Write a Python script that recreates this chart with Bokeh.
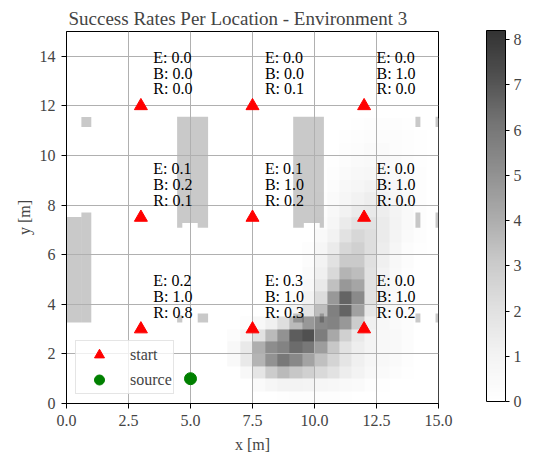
import numpy as np
from bokeh.plotting import figure
from bokeh.models import (LinearColorMapper, ColorBar, FixedTicker, Label, Range1d)
from bokeh.core.properties import value
from bokeh.embed import file_html
from bokeh.resources import INLINE

FONT = "Liberation Serif"

# ---------------- data ----------------
start_x = [3.0, 7.5, 12.0, 3.0, 7.5, 12.0, 3.0, 7.5, 12.0]
start_y = [12.0, 12.0, 12.0, 7.5, 7.5, 7.5, 3.0, 3.0, 3.0]
rate_E = ["0.0", "0.0", "0.0", "0.1", "0.1", "0.0", "0.2", "0.3", "0.0"]
rate_B = ["0.0", "0.0", "1.0", "0.2", "1.0", "1.0", "1.0", "1.0", "1.0"]
rate_R = ["0.0", "0.1", "0.0", "0.1", "0.2", "0.0", "0.8", "0.3", "0.2"]
source_x = [5.0]
source_y = [1.0]

x_ticks = [0, 2.5, 5, 7.5, 10, 12.5, 15]
x_tick_labels = ["0.0", "2.5", "5.0", "7.5", "10.0", "12.5", "15.0"]
y_ticks = [0, 2, 4, 6, 8, 10, 12, 14]
cb_ticks = [0, 1, 2, 3, 4, 5, 6, 7, 8]
ppm_max = 8.2

# obstacle rectangles (m)
obs_x0 = [0.60, 4.46, 4.46, 5.29, 9.14, 9.14, 10.21, 0.00, 0.60, 4.46, 5.29, 9.14, 10.21, 14.07, 14.88, 14.07, 14.88, 14.07, 14.88]
obs_x1 = [1.00, 5.71, 4.67, 5.71, 10.38, 9.57, 10.38, 0.60, 1.00, 4.67, 5.71, 9.57, 10.38, 14.27, 15.00, 14.27, 15.00, 14.27, 15.00]
obs_y0 = [11.15, 7.28, 7.09, 7.09, 7.28, 7.09, 7.09, 3.27, 3.27, 3.27, 3.27, 3.27, 3.27, 11.15, 11.15, 7.09, 7.09, 3.27, 3.27]
obs_y1 = [11.55, 11.56, 7.28, 7.28, 11.56, 7.28, 7.28, 7.52, 7.70, 3.56, 3.63, 3.63, 3.63, 11.56, 11.56, 7.70, 7.70, 3.63, 3.63]

# plume concentration (ppm), 0.5 m cells, columns x = 6.0..15.0, rows listed from y = 11.5 (top) down to y = 0
plume_rows_top_down = [
    [0, 0, 0, 0, 0, 0, 0, 0, 0, 0, 0, 0.1, 0.2, 0.2, 0.2, 0.1, 0, 0],
    [0, 0, 0, 0, 0, 0, 0, 0, 0, 0, 0.1, 0.2, 0.3, 0.3, 0.3, 0.2, 0.1, 0],
    [0, 0, 0, 0, 0, 0, 0, 0, 0, 0, 0.2, 0.3, 0.4, 0.4, 0.3, 0.2, 0.1, 0],
    [0, 0, 0, 0, 0, 0, 0, 0, 0, 0.1, 0.3, 0.4, 0.5, 0.5, 0.4, 0.3, 0.1, 0],
    [0, 0, 0, 0, 0, 0, 0, 0, 0, 0.2, 0.4, 0.6, 0.7, 0.7, 0.5, 0.3, 0.2, 0],
    [0, 0, 0, 0, 0, 0, 0, 0, 0, 0.3, 0.6, 0.8, 1.0, 0.9, 0.7, 0.4, 0.2, 0],
    [0, 0, 0, 0, 0, 0, 0, 0, 0.1, 0.4, 0.8, 1.1, 1.3, 1.1, 0.8, 0.5, 0.2, 0],
    [0, 0, 0, 0, 0, 0, 0, 0, 0.2, 0.6, 1.1, 1.5, 1.6, 1.3, 0.9, 0.5, 0.2, 0],
    [0, 0, 0, 0, 0, 0, 0, 0, 0.3, 0.8, 1.5, 2.0, 2.0, 1.5, 1.0, 0.5, 0.2, 0],
    [0, 0, 0, 0, 0, 0, 0, 0, 0.5, 1.1, 2.0, 2.5, 2.2, 1.5, 0.9, 0.4, 0.2, 0],
    [0, 0, 0, 0, 0, 0, 0, 0.2, 0.8, 1.5, 2.5, 2.8, 2.2, 1.4, 0.8, 0.3, 0.1, 0],
    [0, 0, 0, 0, 0, 0, 0, 0.3, 1.0, 2.0, 3.1, 3.1, 2.1, 1.2, 0.6, 0.3, 0, 0],
    [0, 0, 0, 0, 0, 0, 0, 0.4, 1.2, 2.4, 3.8, 3.5, 2.0, 1.0, 0.5, 0.2, 0, 0],
    [0, 0, 0, 0, 0, 0, 0, 0.6, 1.6, 3.4, 4.8, 4.3, 2.0, 0.9, 0.5, 0.2, 0, 0],
    [0, 0, 0, 0, 0, 0, 0.3, 1.0, 2.3, 4.8, 6.6, 5.3, 2.0, 0.9, 0.4, 0.2, 0, 0],
    [0, 0, 0, 0, 0, 0.3, 0.8, 1.8, 3.5, 5.7, 6.6, 4.5, 1.7, 0.8, 0.4, 0.2, 0, 0],
    [0, 0, 0.2, 0.6, 1.2, 2.2, 3.6, 4.8, 5.4, 5.6, 4.8, 3.0, 1.2, 0.7, 0.4, 0.3, 0, 0],
    [0, 0.3, 0.8, 2.0, 3.6, 5.0, 6.8, 7.2, 5.8, 4.2, 2.8, 1.6, 0.9, 0.6, 0.5, 0.3, 0, 0],
    [0, 0.6, 1.6, 4.0, 5.2, 5.6, 6.4, 6.0, 4.6, 3.2, 2.0, 1.3, 0.9, 0.6, 0.5, 0.3, 0, 0],
    [0, 0.5, 1.6, 3.8, 5.0, 6.0, 5.4, 4.4, 3.4, 2.6, 1.8, 1.2, 0.8, 0.6, 0.4, 0.2, 0, 0],
    [0, 0, 0.6, 1.8, 3.0, 3.6, 3.2, 2.8, 2.4, 2.0, 1.4, 1.0, 0.6, 0.4, 0.3, 0.1, 0, 0],
    [0, 0, 0, 0.4, 0.8, 1.0, 1.0, 0.9, 0.8, 0.7, 0.5, 0.4, 0.2, 0.1, 0, 0, 0, 0],
    [0, 0, 0, 0, 0, 0.1, 0.2, 0.2, 0.2, 0.2, 0.1, 0, 0, 0, 0, 0, 0, 0],
]
plume_x0 = 6.0
plume_y0 = 0.0
plume_cell = 0.5

# ---------------- palette: matplotlib "Greys" at alpha 0.8 over white ----------------
greys_stops = [255, 240, 217, 189, 150, 115, 82, 37, 0]
palette = []
for i in range(256):
    t = i / 255 * (len(greys_stops) - 1)
    k = min(int(t), len(greys_stops) - 2)
    f = t - k
    g = greys_stops[k] * (1 - f) + greys_stops[k + 1] * f
    g = int(round(255 - 0.8 * (255 - g)))
    palette.append("#%02x%02x%02x" % (g, g, g))
mapper = LinearColorMapper(palette=palette, low=0, high=ppm_max)

plume = np.array(plume_rows_top_down, dtype=float)[::-1]
ny, nx = plume.shape

# ---------------- figure ----------------
W, H = 548, 456
p = figure(width=W, height=H, output_backend="svg", toolbar_location=None,
           x_range=Range1d(0, 15), y_range=Range1d(0, 15),
           min_border_left=66, min_border_right=W - 438, min_border_top=31, min_border_bottom=H - 403,
           title="Success Rates Per Location - Environment 3")
p.title.text_font = FONT
p.title.text_font_size = "19px"
p.title.text_font_style = "normal"
p.title.align = "left"
p.title.offset = 2
p.title.standoff = 6
p.background_fill_color = "white"
p.border_fill_color = "white"
p.outline_line_color = "black"
p.outline_line_width = 1
p.outline_line_alpha = 1

img = p.image(image=[plume], x=plume_x0, y=plume_y0, dw=nx * plume_cell, dh=ny * plume_cell,
              color_mapper=mapper, level="image")
obs = p.quad(left=obs_x0, right=obs_x1, bottom=obs_y0, top=obs_y1,
             fill_color="black", fill_alpha=0.21, line_color=None, level="image")

p.scatter(x=start_x, y=start_y, marker="triangle", size=13, color="red", legend_label="start")
p.scatter(x=source_x, y=source_y, marker="circle", size=12, color="green", legend_label="source")

labels = ["E: %s\nB: %s\nR: %s" % (e, b, r) for e, b, r in zip(rate_E, rate_B, rate_R)]
p.text(x=[sx + 0.5 for sx in start_x], y=[sy + 0.5 for sy in start_y], text=labels,
       text_font=value(FONT), text_font_size="16px", text_color="black",
       text_align="left", text_baseline="bottom", text_line_height=0.94, y_offset=4)

# axes
for ax in (p.xaxis, p.yaxis):
    ax.axis_label_text_font = FONT
    ax.axis_label_text_font_size = "16px"
    ax.axis_label_text_font_style = "normal"
    ax.major_label_text_font = FONT
    ax.major_label_text_font_size = "16px"
    ax.major_tick_in = 0
    ax.major_tick_out = 5
    ax.minor_tick_line_color = None
    ax.axis_line_color = "black"
    ax.major_tick_line_color = "black"
    ax.major_label_standoff = 6
p.xaxis.axis_label_standoff = 7
p.yaxis.axis_label_standoff = 4
p.xaxis.axis_label = "x [m]"
p.yaxis.axis_label = "y [m]"
p.xaxis.ticker = FixedTicker(ticks=x_ticks)
p.xaxis.major_label_overrides = {t: l for t, l in zip(x_ticks, x_tick_labels)}
p.yaxis.ticker = FixedTicker(ticks=y_ticks)
p.xgrid.ticker = FixedTicker(ticks=x_ticks)
p.ygrid.ticker = FixedTicker(ticks=y_ticks)
p.grid.grid_line_color = "#b0b0b0"
p.grid.grid_line_width = 1

# legend
lg = p.legend[0]
lg.location = "bottom_left"
lg.margin = 9
lg.padding = 1
lg.spacing = 0
lg.glyph_width = 44
lg.glyph_height = 25
lg.label_standoff = 9
lg.label_text_font = FONT
lg.label_text_font_size = "16px"
lg.border_line_color = "#cccccc"
lg.border_line_width = 1
lg.background_fill_alpha = 0.8

# colorbar (placed to the right of the frame, in frame-relative pixels)
cb = ColorBar(color_mapper=mapper, ticker=FixedTicker(ticks=cb_ticks), width=19, height=371,
              location=(420, 2), margin=0, padding=0,
              bar_line_color="black", bar_line_width=1,
              major_tick_in=0, major_tick_out=4, major_tick_line_color="black",
              minor_tick_line_color=None, label_standoff=4,
              major_label_text_font=FONT, major_label_text_font_size="16px",
              background_fill_color=None, border_line_color=None)
p.add_layout(cb)

ppm_label = Label(x=474, y=182, x_units="screen", y_units="screen", text="ppm", angle=-np.pi / 2,
                  text_font=FONT, text_font_size="16px", text_align="center", text_baseline="middle")
p.add_layout(ppm_label)

open("out.html", "w").write(file_html(p, INLINE))
